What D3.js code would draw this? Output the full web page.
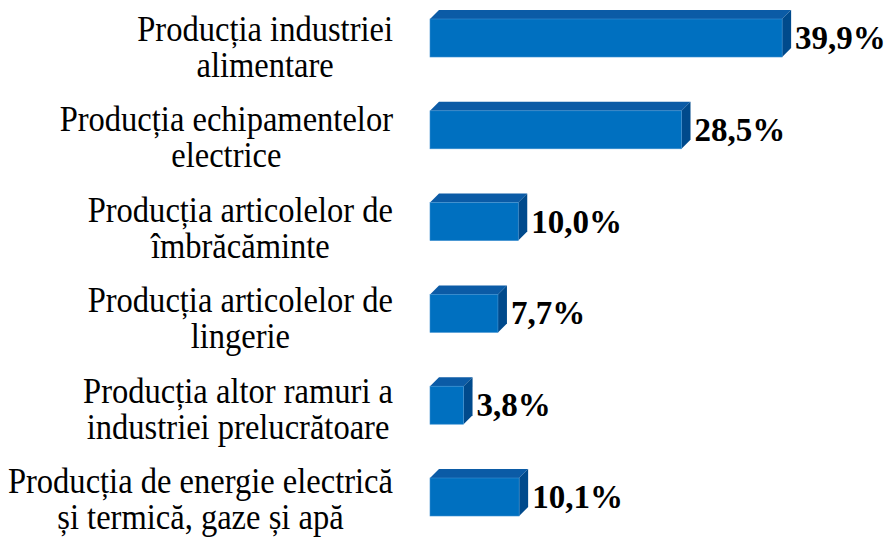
<!DOCTYPE html>
<html>
<head>
<meta charset="utf-8">
<script src="https://cdn.jsdelivr.net/npm/d3@7"></script>
<style>
  body { margin: 0; background: #fff; }
  text { font-family: "Liberation Serif", "Times New Roman", serif; }
</style>
</head>
<body>
<div id="chart"></div>
<script>
// categories (each label broken into its two lines)
const categories = [
  ["Producția industriei", "alimentare"],
  ["Producția echipamentelor", "electrice"],
  ["Producția articolelor de", "îmbrăcăminte"],
  ["Producția articolelor de", "lingerie"],
  ["Producția altor ramuri a", "industriei prelucrătoare"],
  ["Producția de energie electrică", "și termică, gaze și apă"]
];
const values = [39.9, 28.5, 10.0, 7.7, 3.8, 10.1];
const valueLabels = ["39,9%", "28,5%", "10,0%", "7,7%", "3,8%", "10,1%"];

const W = 887, H = 541;
const depth = 9;

const svg = d3.select("#chart").append("svg")
  .attr("width", W)
  .attr("height", H);

const x = d3.scaleLinear()
  .domain([0, 40])
  .range([430, 783]);

const y = d3.scaleBand()
  .domain(d3.range(values.length))
  .range([19, 516])
  .paddingInner(0.586)
  .paddingOuter(0);

// first-line baselines of the category labels
const yLab = d3.scalePoint()
  .domain(d3.range(values.length))
  .range([41, 493]);

const data = values.map((v, i) => ({ v, i, lines: categories[i], label: valueLabels[i] }));

const bars = svg.selectAll("g.bar")
  .data(data)
  .enter().append("g")
  .attr("class", "bar");

// top face
bars.append("path")
  .attr("fill", "#0b5ba6")
  .attr("d", d => {
    const x0 = x(0), x1 = x(d.v), t = y(d.i);
    return `M${x0},${t}L${x0 + depth},${t - depth}L${x1 + depth},${t - depth}L${x1},${t}Z`;
  });

// side face
bars.append("path")
  .attr("fill", "#004a8c")
  .attr("d", d => {
    const x1 = x(d.v), t = y(d.i), b = y(d.i) + y.bandwidth();
    return `M${x1},${t}L${x1 + depth},${t - depth}L${x1 + depth},${b - depth}L${x1},${b}Z`;
  });

// front face
bars.append("rect")
  .attr("x", x(0))
  .attr("y", d => y(d.i))
  .attr("width", d => x(d.v) - x(0))
  .attr("height", y.bandwidth())
  .attr("fill", "#0070c0")
  .attr("stroke", "#3d8fd0")
  .attr("stroke-width", 0.6);

// value labels
bars.append("text")
  .attr("x", d => x(d.v) + depth + 4)
  .attr("y", d => y(d.i) + y.bandwidth() / 2 + 11)
  .attr("font-size", 33)
  .attr("font-weight", "bold")
  .attr("fill", "#000")
  .text(d => d.label);

// category labels: narrow serif text right-aligned at x=393
const catG = svg.append("g")
  .attr("transform", "translate(393,0) scale(0.93,1)");

const cat = catG.selectAll("text.cat")
  .data(data)
  .enter().append("text")
  .attr("class", "cat")
  .attr("text-anchor", "middle")
  .attr("font-size", 35)
  .attr("fill", "#000");

cat.each(function(d) {
  const el = d3.select(this);
  d.lines.forEach((line, k) => {
    el.append("tspan")
      .attr("x", 0)
      .attr("y", yLab(d.i) + k * 36)
      .text(line);
  });
  const bb = this.getBBox();
  el.selectAll("tspan").attr("x", -bb.width / 2);
});
</script>
</body>
</html>
